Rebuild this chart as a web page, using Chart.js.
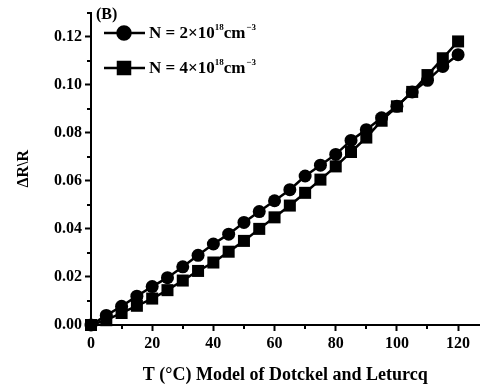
<!DOCTYPE html>
<html>
<head>
<meta charset="utf-8">
<script src="https://cdn.jsdelivr.net/npm/chart.js@4"></script>
<style>
  html, body { margin: 0; padding: 0; background: #fff; }
  #wrap { width: 488px; height: 390px; }
</style>
</head>
<body>
<div id="wrap"><canvas id="myChart" width="488" height="390"></canvas></div>
<script>
// DATA
const temps = [0, 5, 10, 15, 20, 25, 30, 35, 40, 45, 50, 55, 60, 65, 70, 75, 80, 85, 90, 95, 100, 105, 110, 115, 120];
const seriesN2 = [0, 0.004, 0.0078, 0.012, 0.016, 0.0197, 0.0242, 0.029, 0.0337, 0.0378, 0.0427, 0.0472, 0.0517,
  0.0563, 0.062, 0.0665, 0.071, 0.0768, 0.0813, 0.0862, 0.091, 0.097, 0.1018, 0.1076, 0.1125];
const seriesN4 = [0, 0.002, 0.005, 0.008, 0.011, 0.0145, 0.0185, 0.0225, 0.026, 0.0305, 0.035, 0.040, 0.0448,
  0.0497, 0.055, 0.0605, 0.066, 0.072, 0.078, 0.085, 0.091, 0.097, 0.104, 0.111, 0.118];
const xTicks = [0, 20, 40, 60, 80, 100, 120];
const yTicks = [0, 0.02, 0.04, 0.06, 0.08, 0.10, 0.12];

const FONT = "'Liberation Serif', 'DejaVu Serif', serif";

// minor ticks + legend drawn on canvas
const extras = {
  id: "extras",
  afterDraw(chart) {
    const ctx = chart.ctx;
    const xs = chart.scales.x, ys = chart.scales.y;
    ctx.save();
    ctx.strokeStyle = "#000";
    ctx.lineWidth = 2;
    // minor ticks
    for (let i = 0; i < xTicks.length; i++) {
      const v = xTicks[i] + 10;
      if (v > xs.max) break;
      const px = Math.round(xs.getPixelForValue(v));
      ctx.beginPath(); ctx.moveTo(px, ys.bottom); ctx.lineTo(px, ys.bottom + 4); ctx.stroke();
    }
    for (let i = 0; i < yTicks.length; i++) {
      const v = yTicks[i] + 0.01;
      if (v > ys.max) break;
      const py = Math.round(ys.getPixelForValue(v));
      ctx.beginPath(); ctx.moveTo(xs.left, py); ctx.lineTo(xs.left - 4, py); ctx.stroke();
    }
    // panel label
    ctx.fillStyle = "#000";
    ctx.textBaseline = "middle";
    ctx.font = "bold 16px " + FONT;
    ctx.fillText("(B)", 96, 15);
    // legend
    const items = [
      { y: 33, style: "circle", r: 6.5, text: "N = 2×10", sup: "18" },
      { y: 68, style: "rect", r: 8.5, text: "N = 4×10", sup: "18" }
    ];
    ctx.lineWidth = 2.5;
    items.forEach(it => {
      ctx.beginPath(); ctx.moveTo(104, it.y); ctx.lineTo(145, it.y); ctx.stroke();
      Chart.helpers.drawPoint(ctx, { pointStyle: it.style, radius: it.r, borderWidth: 1 }, 124, it.y);
      ctx.fill();
      let x = 149;
      ctx.font = "bold 17px " + FONT;
      ctx.fillText(it.text, x, it.y + 1);
      x += ctx.measureText(it.text).width;
      ctx.font = "bold 9px " + FONT;
      ctx.fillText(it.sup, x, it.y - 5);
      x += ctx.measureText(it.sup).width;
      ctx.font = "bold 17px " + FONT;
      ctx.fillText("cm", x, it.y + 1);
      x += ctx.measureText("cm").width;
      ctx.font = "bold 9px " + FONT;
      ctx.fillText("−3", x + 1, it.y - 5);
    });
    ctx.restore();
  }
};

const ctx = document.getElementById("myChart").getContext("2d");

new Chart(ctx, {
  type: "line",
  data: {
    labels: temps,
    datasets: [{
      label: "N = 2×10¹⁸cm⁻³",
      data: temps.map((t, i) => ({ x: t, y: seriesN2[i] })),
      borderColor: "#000",
      backgroundColor: "#000",
      borderWidth: 2.5,
      pointStyle: "circle",
      pointRadius: 6.5,
      pointBorderWidth: 0,
      tension: 0
    }, {
      label: "N = 4×10¹⁸cm⁻³",
      data: temps.map((t, i) => ({ x: t, y: seriesN4[i] })),
      borderColor: "#000",
      backgroundColor: "#000",
      borderWidth: 2.5,
      pointStyle: "rect",
      pointRadius: 8.5,
      pointBorderWidth: 0,
      tension: 0
    }]
  },
  options: {
    responsive: false,
    animation: false,
    clip: false,
    layout: { padding: { top: 9, right: 1, left: 0, bottom: 0 } },
    plugins: {
      legend: { display: false },
      tooltip: { enabled: false }
    },
    scales: {
      x: {
        type: "linear",
        min: 0,
        max: 127,
        afterBuildTicks: s => { s.ticks = xTicks.map(v => ({ value: v })); },
        afterFit: s => { s.height = 65; },
        border: { display: true, color: "#000", width: 2 },
        grid: { drawOnChartArea: false, color: "#000", tickLength: 6, tickWidth: 2 },
        ticks: {
          color: "#000",
          font: { family: FONT, size: 16, weight: "bold" },
          padding: 3,
          maxRotation: 0,
          callback: v => v
        },
        title: {
          display: true,
          text: "T (°C) Model of Dotckel and Leturcq",
          color: "#000",
          font: { family: FONT, size: 18, weight: "bold" },
          padding: { top: 7 }
        }
      },
      y: {
        min: 0,
        max: 0.13,
        afterBuildTicks: s => { s.ticks = yTicks.map(v => ({ value: v })); },
        afterFit: s => { s.width = 91; },
        border: { display: true, color: "#000", width: 2 },
        grid: { drawOnChartArea: false, color: "#000", tickLength: 6, tickWidth: 2 },
        ticks: {
          color: "#000",
          font: { family: FONT, size: 16, weight: "bold" },
          padding: 3,
          callback: v => v.toFixed(2)
        },
        title: {
          display: true,
          text: "ΔR\\R",
          color: "#000",
          font: { family: FONT, size: 16, weight: "bold" },
          padding: { top: 14, bottom: 0 }
        }
      }
    }
  },
  plugins: [extras]
});
</script>
</body>
</html>
